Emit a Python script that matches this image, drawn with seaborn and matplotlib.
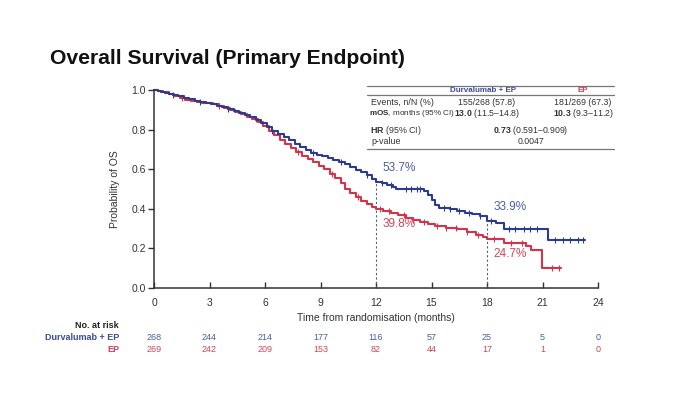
import numpy as np
import pandas as pd
import matplotlib
matplotlib.use("Agg")
import matplotlib.pyplot as plt
import matplotlib.transforms as mtransforms
from matplotlib.lines import Line2D
import seaborn as sns

# ---------------------------------------------------------
# Data (Kaplan-Meier steps)
# ---------------------------------------------------------
durva_t = [0, 0.2, 0.4, 0.6, 0.8, 1.0, 1.3, 1.6, 1.9, 2.2, 2.5, 2.8, 3.1,
           3.4, 3.7, 4.0, 4.3, 4.6, 4.9, 5.2, 5.5, 5.8, 6.1, 6.4, 6.7, 7.0,
           7.3, 7.6, 7.9, 8.2, 8.5, 8.8, 9.1, 9.4, 9.7, 10.0, 10.3, 10.6,
           10.9, 11.2, 11.5, 11.8, 12.0, 12.3, 12.6, 12.9, 13.1, 14.6, 14.8,
           15.0, 15.2, 15.4, 16.0, 16.4, 16.8, 17.2, 17.6, 18.0, 18.5, 18.9,
           21.3, 23.3]
durva_s = [1.0, 0.996, 0.99, 0.985, 0.98, 0.975, 0.968, 0.96, 0.953, 0.946,
           0.94, 0.934, 0.928, 0.92, 0.912, 0.904, 0.895, 0.886, 0.875, 0.862,
           0.848, 0.832, 0.812, 0.795, 0.78, 0.762, 0.745, 0.728, 0.712,
           0.698, 0.684, 0.674, 0.666, 0.658, 0.648, 0.637, 0.625, 0.612,
           0.598, 0.585, 0.57, 0.553, 0.537, 0.53, 0.522, 0.512, 0.50, 0.49,
           0.47, 0.445, 0.42, 0.405, 0.398, 0.39, 0.38, 0.372, 0.362, 0.339,
           0.33, 0.296, 0.242, 0.242]

ep_t = [0, 0.2, 0.5, 0.8, 1.1, 1.4, 1.7, 2.0, 2.3, 2.6, 2.9, 3.2, 3.5, 3.8,
        4.1, 4.4, 4.7, 5.0, 5.3, 5.6, 5.9, 6.2, 6.5, 6.8, 7.1, 7.4, 7.7, 8.0,
        8.3, 8.6, 8.9, 9.2, 9.5, 9.8, 10.1, 10.3, 10.6, 10.9, 11.2, 11.5,
        11.8, 12.0, 12.4, 12.8, 13.2, 13.6, 14.0, 14.4, 14.8, 15.2, 15.8,
        16.4, 16.9, 17.4, 17.8, 18.0, 18.9, 20.1, 20.4, 20.95, 22.0]
ep_s = [1.0, 0.995, 0.988, 0.978, 0.968, 0.958, 0.95, 0.944, 0.94, 0.936,
        0.932, 0.928, 0.92, 0.91, 0.90, 0.89, 0.878, 0.866, 0.852, 0.836,
        0.818, 0.795, 0.772, 0.75, 0.728, 0.708, 0.688, 0.668, 0.65, 0.634,
        0.618, 0.60, 0.578, 0.555, 0.528, 0.50, 0.478, 0.458, 0.44, 0.422,
        0.408, 0.398, 0.39, 0.38, 0.368, 0.355, 0.342, 0.332, 0.322, 0.312,
        0.305, 0.298, 0.285, 0.27, 0.258, 0.247, 0.226, 0.21, 0.19, 0.10,
        0.10]

durva_censor = [1.0, 2.5, 4.0, 6.4, 8.6, 10.1, 11.5, 12.3, 12.8, 13.6, 13.9,
                14.2, 14.4, 15.7, 16.0, 16.5, 17.0, 17.6, 18.2, 19.2, 19.5,
                20.0, 20.3, 20.7, 21.7, 22.1, 22.5, 22.9, 23.2]
ep_censor = [1.5, 3.5, 5.5, 7.8, 9.6, 11.0, 12.2, 12.7, 13.5, 14.0, 14.6,
             15.3, 15.8, 16.3, 16.9, 17.5, 18.4, 19.3, 19.9, 21.5, 21.9]

landmark_t = [12, 18]
durva_landmark = ["53.7%", "33.9%"]
ep_landmark = ["39.8%", "24.7%"]

risk_times = [0, 3, 6, 9, 12, 15, 18, 21, 24]
durva_risk = [268, 244, 214, 177, 116, 57, 25, 5, 0]
ep_risk = [269, 242, 209, 153, 82, 44, 17, 1, 0]

BLUE = "#2d3b8e"
RED = "#d5334b"
BLUE_TXT = "#4a5fa6"
RED_TXT = "#d2455c"
GREY = "#333333"

W, H = 692, 393


def fx(px):
    return px / W


def fy(py):
    return 1 - py / H


def step_value(times, surv, t):
    i = np.searchsorted(times, t, side="right") - 1
    return surv[i]


km = pd.concat([
    pd.DataFrame({"time": durva_t, "surv": durva_s, "arm": "Durvalumab + EP"}),
    pd.DataFrame({"time": ep_t, "surv": ep_s, "arm": "EP"}),
])
cens = pd.concat([
    pd.DataFrame({"time": durva_censor,
                  "surv": [step_value(durva_t, durva_s, t) for t in durva_censor],
                  "arm": "Durvalumab + EP"}),
    pd.DataFrame({"time": ep_censor,
                  "surv": [step_value(ep_t, ep_s, t) for t in ep_censor],
                  "arm": "EP"}),
])
palette = {"Durvalumab + EP": BLUE, "EP": RED}

sns.set_theme(style="white")
plt.rcParams["font.family"] = ["Liberation Sans", "DejaVu Sans"]
plt.rcParams["mathtext.fontset"] = "custom"
plt.rcParams["mathtext.rm"] = "Liberation Sans"
plt.rcParams["mathtext.bf"] = "Liberation Sans:bold"

fig = plt.figure(figsize=(W / 100, H / 100), dpi=100)
ax = fig.add_axes([fx(154), fy(288), fx(598) - fx(154), fy(90) - fy(288)])

# draw EP first so the blue arm sits on top where the curves overlap
for arm in ["EP", "Durvalumab + EP"]:
    sub = km[km["arm"] == arm]
    sns.lineplot(data=sub, x="time", y="surv", color=palette[arm], lw=1.5,
                 drawstyle="steps-post", estimator=None, sort=False, ax=ax,
                 clip_on=False)
    csub = cens[cens["arm"] == arm]
    sns.scatterplot(data=csub, x="time", y="surv", color=palette[arm],
                    marker="|", s=16, linewidth=0.8, ax=ax, clip_on=False)

# landmark dashed lines
for t, lab_d, lab_e in zip(landmark_t, durva_landmark, ep_landmark):
    top = step_value(durva_t, durva_s, t)
    ax.plot([t, t], [0, top], ls=(0, (2, 2)), color="#55607f", lw=0.8)
    ax.text(t + 0.35, top + 0.04, lab_d, color=BLUE_TXT, fontsize=8.5,
            ha="left", va="bottom")
    low = step_value(ep_t, ep_s, t)
    ax.text(t + 0.35, low - 0.045, lab_e, color=RED_TXT, fontsize=8.5,
            ha="left", va="top")

ax.set_xlim(0, 24)
ax.set_ylim(0, 1.0)
ax.set_xticks(risk_times)
ax.set_yticks([0, 0.2, 0.4, 0.6, 0.8, 1.0])
ax.set_yticklabels(["0.0", "0.2", "0.4", "0.6", "0.8", "1.0"])
ax.tick_params(axis="y", direction="out", length=4, width=1, colors=GREY,
               labelsize=7.5, pad=2, left=True)
ax.tick_params(axis="x", direction="in", length=4, width=1, colors=GREY,
               labelsize=7.5, pad=7, bottom=True)
for side in ["top", "right"]:
    ax.spines[side].set_visible(False)
for side in ["left", "bottom"]:
    ax.spines[side].set_color(GREY)
    ax.spines[side].set_linewidth(1.1)
ax.set_xlabel("Time from randomisation (months)", fontsize=7.5, color=GREY,
              labelpad=4)
ax.set_ylabel("Probability of OS", fontsize=7.5, color=GREY, labelpad=8)
ax.set_facecolor("white")
if ax.get_legend():
    ax.get_legend().remove()

# title
fig.text(fx(50), fy(58), "Overall Survival (Primary Endpoint)", fontsize=15.2,
         fontweight="bold", color="#111111", ha="left", va="center")

# summary table (upper right)
for py in [86, 94.5, 148.5]:
    fig.add_artist(Line2D([fx(367), fx(614)], [fy(py), fy(py)],
                          color="#777777", lw=0.9))
tfs = 6.3
lfs = 6.0
c1, c2, cm = 487, 583, 531
fig.text(fx(483), fy(90.5), "Durvalumab + EP", color="#3c4a9c", fontsize=5.8,
         fontweight="bold", ha="center", va="center")
fig.text(fx(c2), fy(90.5), "EP", color="#d63a5a", fontsize=5.8,
         fontweight="bold", ha="center", va="center")
fig.text(fx(371), fy(102.5), "Events, n/N (%)", fontsize=lfs + 0.4,
         color=GREY, va="center")
fig.text(fx(c1), fy(102.5), "155/268 (57.8)", fontsize=tfs, color=GREY,
         ha="center", va="center")
fig.text(fx(c2), fy(102.5), "181/269 (67.3)", fontsize=tfs, color=GREY,
         ha="center", va="center")
fig.text(fx(369), fy(113.5), r"$\bf{mOS}$, months (95% CI)", fontsize=5.9,
         color=GREY, va="center")
fig.text(fx(c1), fy(113.5), r"$\bf{13.0}$ (11.5–14.8)", fontsize=tfs,
         color=GREY, ha="center", va="center")
fig.text(fx(c2), fy(113.5), r"$\bf{10.3}$ (9.3–11.2)", fontsize=tfs,
         color=GREY, ha="center", va="center")
fig.text(fx(370), fy(130.5), r"$\bf{HR}$ (95% CI)", fontsize=lfs + 0.4,
         color=GREY, va="center")
fig.text(fx(cm), fy(130.5), r"$\bf{0.73}$ (0.591–0.909)", fontsize=tfs,
         color=GREY, ha="center", va="center")
fig.text(fx(371), fy(141.5), "p-value", fontsize=lfs + 0.4, color=GREY,
         va="center")
fig.text(fx(cm), fy(141.5), "0.0047", fontsize=tfs, color=GREY, ha="center",
         va="center")

# number at risk table
trans = mtransforms.blended_transform_factory(ax.transData, fig.transFigure)
fig.text(fx(119), fy(325), "No. at risk", fontsize=6.5, fontweight="bold",
         color="#222222", ha="right", va="center")
fig.text(fx(119), fy(338), "Durvalumab + EP", fontsize=6.5, fontweight="bold",
         color="#3c4a9c", ha="right", va="center")
fig.text(fx(119), fy(350), "EP", fontsize=6.5, fontweight="bold",
         color="#d63a5a", ha="right", va="center")
for t, nd, ne in zip(risk_times, durva_risk, ep_risk):
    ax.text(t, fy(338), str(nd), transform=trans, fontsize=6.5,
            color=BLUE_TXT, ha="center", va="center")
    ax.text(t, fy(350), str(ne), transform=trans, fontsize=6.5,
            color=RED_TXT, ha="center", va="center")

fig.savefig("out.png", dpi=100, facecolor="white")
